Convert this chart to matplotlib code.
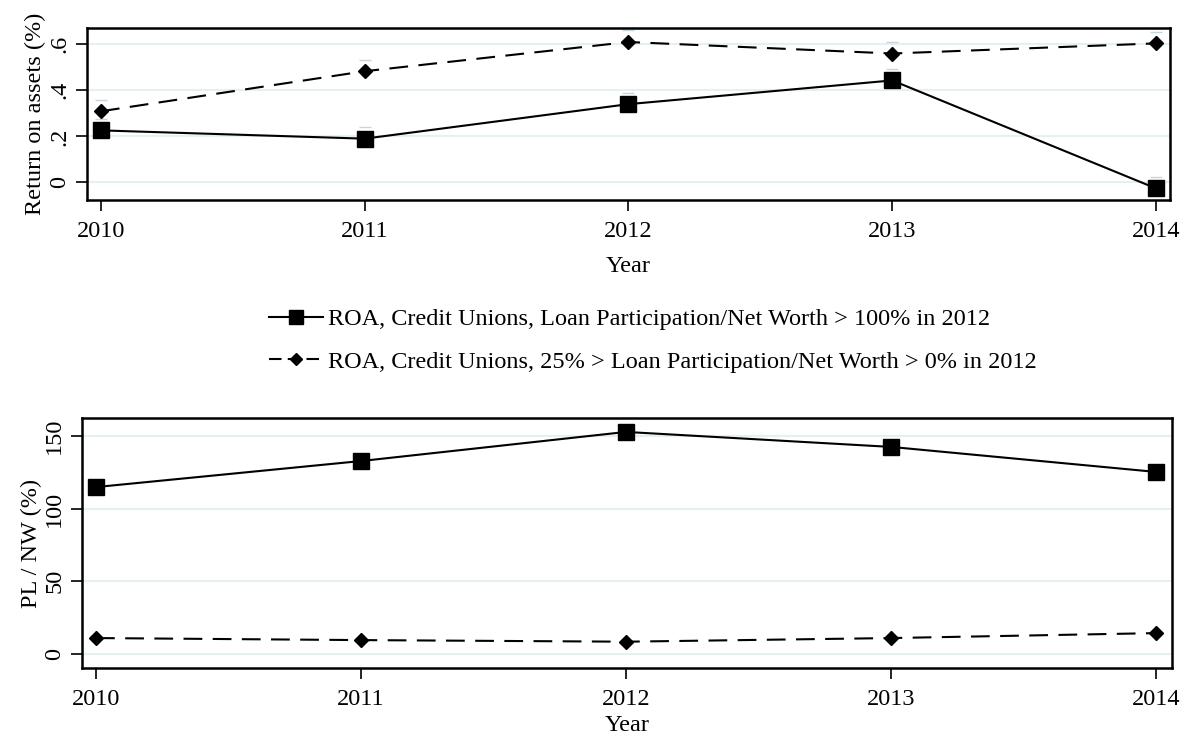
import matplotlib.pyplot as plt
from matplotlib.lines import Line2D
from matplotlib.ticker import FuncFormatter
import numpy as np

plt.rcParams['font.family'] = ['Liberation Serif', 'DejaVu Serif']

years = [2010, 2011, 2012, 2013, 2014]

# return on assets (%)
roa_high = [0.226, 0.19, 0.34, 0.443, -0.026]
roa_low = [0.309, 0.483, 0.61, 0.56, 0.604]
roa_err = 0.05

# participation loans / net worth (%)
plnw_high = [114.8, 132.7, 152.7, 142.4, 125.2]
plnw_low = [11.0, 9.6, 8.5, 11.0, 14.4]

lab_high = 'ROA, Credit Unions, Loan Participation/Net Worth > 100% in 2012'
lab_low = 'ROA, Credit Unions, 25% > Loan Participation/Net Worth > 0% in 2012'

grid_c = '#e6eff2'
dash = (0, (9, 5))
fs = 17.5

fig = plt.figure(figsize=(11.83, 7.42), dpi=100)
ax1 = fig.add_axes([0.0735, 0.730, 0.9155, 0.232])
ax2 = fig.add_axes([0.0693, 0.0997, 0.9214, 0.337])


def style(ax, xpad):
    for s in ax.spines.values():
        s.set_linewidth(1.8)
    ax.tick_params(direction='out', length=8, width=1.2, labelsize=fs, pad=7)
    ax.tick_params(axis='y', labelrotation=90, pad=4)
    for t in ax.get_yticklabels():
        t.set_va('center')
    ax.set_xticks(years)
    ax.grid(axis='y', color=grid_c, linewidth=1.5)
    ax.set_axisbelow(True)
    ax.set_xlabel('Year', fontsize=fs, labelpad=xpad)


# top panel: ROA
ax1.errorbar(years, roa_high, yerr=[np.zeros(5), np.full(5, roa_err)],
             fmt='none', ecolor='#c8d4dc', elinewidth=0, capsize=4, capthick=1)
ax1.errorbar(years, roa_low, yerr=[np.zeros(5), np.full(5, roa_err)],
             fmt='none', ecolor='#c8d4dc', elinewidth=0, capsize=4, capthick=1)
ax1.plot(years, roa_high, color='black', lw=1.5, marker='s', ms=11)
ax1.plot(years, roa_low, color='black', lw=1.5, ls=dash, marker='D', ms=7)
ax1.set_xlim(2010 - 0.053, 2014 + 0.053)
ax1.set_ylim(-0.078, 0.67)
ax1.set_yticks([0, 0.2, 0.4, 0.6])
ax1.yaxis.set_major_formatter(FuncFormatter(
    lambda v, p: '0' if abs(v) < 1e-9 else ('%.1f' % v).lstrip('0')))
ax1.set_ylabel('Return on assets (%)', fontsize=fs, labelpad=2)
style(ax1, 10)

# bottom panel: PL / NW
ax2.plot(years, plnw_high, color='black', lw=1.5, marker='s', ms=11)
ax2.plot(years, plnw_low, color='black', lw=1.5, ls=dash, marker='D', ms=7)
ax2.set_xlim(2010 - 0.053, 2014 + 0.06)
ax2.set_ylim(-9.6, 162.3)
ax2.set_yticks([0, 50, 100, 150])
ax2.set_ylabel('PL / NW (%)', fontsize=fs, labelpad=2)
style(ax2, 4)

handles = [
    Line2D([], [], color='black', lw=1.5, marker='s', ms=10),
    Line2D([], [], color='black', lw=1.5, ls=(0, (6, 3)), marker='D', ms=6),
]
fig.legend(handles, [lab_high, lab_low], loc='center', bbox_to_anchor=(0.552, 0.541),
           frameon=False, fontsize=fs, handlelength=2.2, handletextpad=0.2,
           labelspacing=0.85)

fig.savefig('out.png', dpi=100)
